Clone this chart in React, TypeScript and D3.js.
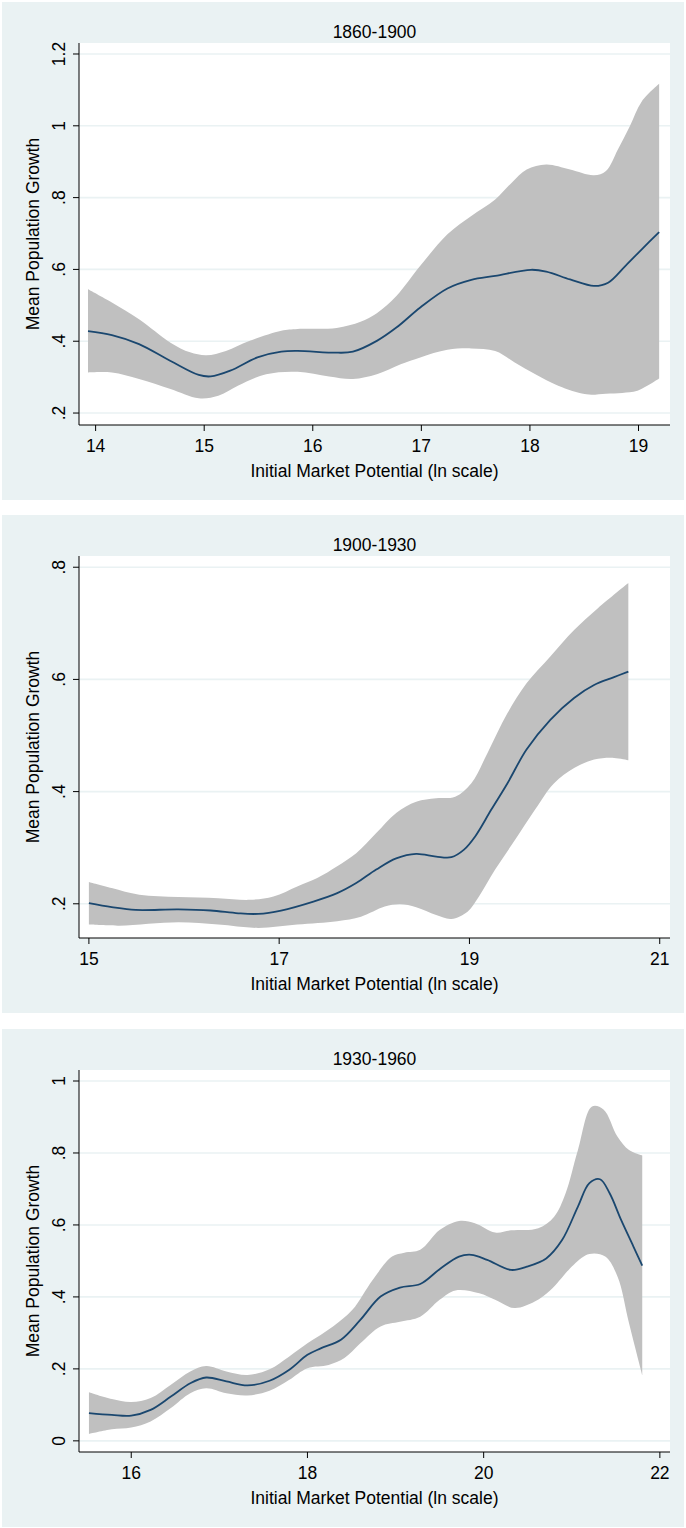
import React from 'react';
import * as d3 from 'd3';

const FONT = '"Liberation Sans", Arial, Helvetica, sans-serif';
const FS = 17.5;
const BG = '#EAF2F3';
const BAND = '#C0C0C0';
const LINE = '#1A476F';

const xAxisTitle = 'Initial Market Potential (ln scale)';
const yAxisTitle = 'Mean Population Growth';

// ---------- Panel 1: 1860-1900 ----------
const p1Title = '1860-1900';
const p1XDomain = [13.847, 19.29];
const p1YDomain = [0.1667, 1.2306];
const p1XTicks = [14, 15, 16, 17, 18, 19];
const p1YTicks = [0.2, 0.4, 0.6, 0.8, 1, 1.2];
const p1YLabels = ['.2', '.4', '.6', '.8', '1', '1.2'];
const p1MeanX = [13.93, 14.15, 14.4, 14.69, 14.95, 15.06, 15.24, 15.49, 15.71, 15.86, 16.22, 16.37, 16.59, 16.77, 16.99, 17.24, 17.46, 17.68, 18.01, 18.15, 18.37, 18.59, 18.72, 18.88, 19.03, 19.19];
const p1MeanY = [0.428, 0.417, 0.392, 0.345, 0.306, 0.302, 0.318, 0.355, 0.371, 0.373, 0.368, 0.371, 0.401, 0.438, 0.494, 0.547, 0.571, 0.582, 0.599, 0.594, 0.572, 0.554, 0.563, 0.61, 0.656, 0.704];
const p1UpX = [13.93, 14.15, 14.4, 14.69, 14.87, 15.02, 15.2, 15.42, 15.71, 15.86, 16.22, 16.44, 16.59, 16.77, 16.99, 17.24, 17.46, 17.68, 17.83, 17.97, 18.15, 18.37, 18.59, 18.7, 18.81, 18.92, 19.03, 19.19];
const p1UpY = [0.545, 0.508, 0.461, 0.396, 0.369, 0.361, 0.373, 0.401, 0.429, 0.434, 0.437, 0.454, 0.478, 0.526, 0.61, 0.698, 0.749, 0.795, 0.841, 0.878, 0.892, 0.878, 0.862, 0.874, 0.934, 0.999, 1.068, 1.117];
const p1LoX = [13.93, 14.15, 14.4, 14.69, 14.95, 15.13, 15.31, 15.57, 15.86, 16.15, 16.37, 16.59, 16.81, 16.99, 17.24, 17.46, 17.68, 17.86, 18.05, 18.26, 18.52, 18.7, 18.85, 18.99, 19.19];
const p1LoY = [0.313, 0.313, 0.295, 0.267, 0.241, 0.248, 0.276, 0.308, 0.315, 0.302, 0.295, 0.308, 0.336, 0.355, 0.376, 0.38, 0.373, 0.341, 0.308, 0.276, 0.252, 0.254, 0.256, 0.262, 0.296];

// ---------- Panel 2: 1900-1930 ----------
const p2Title = '1900-1930';
const p2XDomain = [14.896, 21.108];
const p2YDomain = [0.139, 0.82];
const p2XTicks = [15, 17, 19, 21];
const p2YTicks = [0.2, 0.4, 0.6, 0.8];
const p2YLabels = ['.2', '.4', '.6', '.8'];
const p2MeanX = [15.0, 15.24, 15.49, 15.94, 16.28, 16.57, 16.78, 17.02, 17.36, 17.61, 17.81, 18.02, 18.23, 18.44, 18.65, 18.81, 18.94, 19.06, 19.23, 19.4, 19.6, 19.85, 20.1, 20.31, 20.52, 20.67];
const p2MeanY = [0.201, 0.194, 0.189, 0.19, 0.188, 0.183, 0.182, 0.188, 0.204, 0.219, 0.237, 0.261, 0.281, 0.289, 0.284, 0.283, 0.296, 0.32, 0.368, 0.415, 0.475, 0.528, 0.567, 0.59, 0.604, 0.614];
const p2UpX = [15.0, 15.24, 15.53, 15.94, 16.36, 16.69, 16.94, 17.19, 17.4, 17.61, 17.81, 18.02, 18.23, 18.44, 18.65, 18.85, 19.02, 19.19, 19.4, 19.6, 19.85, 20.1, 20.35, 20.67];
const p2UpY = [0.239, 0.228, 0.216, 0.212, 0.21, 0.207, 0.213, 0.231, 0.246, 0.267, 0.29, 0.326, 0.362, 0.382, 0.388, 0.391, 0.415, 0.469, 0.54, 0.593, 0.641, 0.688, 0.727, 0.772];
const p2LoX = [15.0, 15.32, 15.94, 16.36, 16.78, 17.19, 17.61, 17.86, 18.11, 18.27, 18.44, 18.65, 18.81, 18.98, 19.1, 19.27, 19.48, 19.69, 19.89, 20.1, 20.31, 20.52, 20.67];
const p2LoY = [0.163, 0.161, 0.167, 0.163, 0.157, 0.163, 0.169, 0.177, 0.195, 0.199, 0.194, 0.18, 0.173, 0.186, 0.213, 0.261, 0.314, 0.368, 0.415, 0.442, 0.457, 0.46, 0.456];

// ---------- Panel 3: 1930-1960 ----------
const p3Title = '1930-1960';
const p3XDomain = [15.407, 22.115];
const p3YDomain = [-0.031, 1.0306];
const p3XTicks = [16, 18, 20, 22];
const p3YTicks = [0, 0.2, 0.4, 0.6, 0.8, 1];
const p3YLabels = ['0', '.2', '.4', '.6', '.8', '1'];
const p3MeanX = [15.52, 15.78, 16.0, 16.22, 16.45, 16.67, 16.85, 17.08, 17.32, 17.57, 17.79, 18.0, 18.15, 18.38, 18.6, 18.83, 19.05, 19.28, 19.5, 19.72, 19.86, 20.04, 20.31, 20.49, 20.71, 20.89, 21.07, 21.2, 21.32, 21.43, 21.56, 21.7, 21.8];
const p3MeanY = [0.077, 0.072, 0.07, 0.086, 0.123, 0.16, 0.176, 0.165, 0.154, 0.167, 0.197, 0.239, 0.257, 0.281, 0.336, 0.401, 0.426, 0.436, 0.477, 0.512, 0.517, 0.503, 0.475, 0.484, 0.507, 0.558, 0.651, 0.716, 0.727, 0.688, 0.614, 0.54, 0.487];
const p3UpX = [15.52, 15.78, 16.0, 16.22, 16.45, 16.67, 16.85, 17.08, 17.32, 17.57, 17.79, 18.0, 18.29, 18.51, 18.74, 18.96, 19.1, 19.28, 19.5, 19.72, 19.9, 20.13, 20.31, 20.62, 20.8, 20.93, 21.07, 21.23, 21.36, 21.52, 21.65, 21.8];
const p3UpY = [0.135, 0.116, 0.108, 0.119, 0.156, 0.193, 0.208, 0.193, 0.183, 0.199, 0.234, 0.271, 0.318, 0.364, 0.447, 0.512, 0.523, 0.531, 0.586, 0.611, 0.605, 0.579, 0.585, 0.591, 0.623, 0.688, 0.808, 0.929, 0.921, 0.845, 0.808, 0.793];
const p3LoX = [15.52, 15.78, 16.0, 16.22, 16.45, 16.67, 16.85, 17.08, 17.32, 17.57, 17.79, 18.0, 18.24, 18.42, 18.6, 18.83, 19.05, 19.28, 19.5, 19.68, 19.95, 20.13, 20.35, 20.58, 20.76, 21.02, 21.2, 21.38, 21.52, 21.65, 21.8];
const p3LoY = [0.019, 0.032, 0.037, 0.054, 0.091, 0.132, 0.146, 0.132, 0.126, 0.139, 0.169, 0.202, 0.211, 0.23, 0.271, 0.318, 0.331, 0.345, 0.392, 0.418, 0.41, 0.392, 0.369, 0.387, 0.419, 0.489, 0.519, 0.512, 0.456, 0.327, 0.183];

type PanelDef = {
  title: string;
  xDomain: number[];
  yDomain: number[];
  xTicks: number[];
  yTicks: number[];
  yLabels: string[];
  meanX: number[];
  meanY: number[];
  upX: number[];
  upY: number[];
  loX: number[];
  loY: number[];
};

const panels: PanelDef[] = [
  { title: p1Title, xDomain: p1XDomain, yDomain: p1YDomain, xTicks: p1XTicks, yTicks: p1YTicks, yLabels: p1YLabels, meanX: p1MeanX, meanY: p1MeanY, upX: p1UpX, upY: p1UpY, loX: p1LoX, loY: p1LoY },
  { title: p2Title, xDomain: p2XDomain, yDomain: p2YDomain, xTicks: p2XTicks, yTicks: p2YTicks, yLabels: p2YLabels, meanX: p2MeanX, meanY: p2MeanY, upX: p2UpX, upY: p2UpY, loX: p2LoX, loY: p2LoY },
  { title: p3Title, xDomain: p3XDomain, yDomain: p3YDomain, xTicks: p3XTicks, yTicks: p3YTicks, yLabels: p3YLabels, meanX: p3MeanX, meanY: p3MeanY, upX: p3UpX, upY: p3UpY, loX: p3LoX, loY: p3LoY },
];

const W = 686;
const H = 1528;
const panelTops = [2, 515, 1029];
const panelH = 498;
const plotL = 79;
const plotR = 670;
const plotTopOff = 41;
const axisOff = 423;

function Panel({ p, top }: { p: PanelDef; top: number }) {
  const plotTop = top + plotTopOff;
  const axisY = top + axisOff;
  const x = d3.scaleLinear().domain(p.xDomain).range([plotL, plotR]);
  const y = d3.scaleLinear().domain(p.yDomain).range([axisY, plotTop]);

  const line = d3
    .line<[number, number]>()
    .x((d) => x(d[0]))
    .y((d) => y(d[1]))
    .curve(d3.curveCatmullRom.alpha(0.5));

  const up: [number, number][] = p.upX.map((v, i) => [v, p.upY[i]]);
  const lo: [number, number][] = p.loX.map((v, i) => [v, p.loY[i]]).reverse() as [number, number][];
  const mean: [number, number][] = p.meanX.map((v, i) => [v, p.meanY[i]]);
  const bandPath = (line(up) || '') + (line(lo) || '').replace(/^M/, 'L') + 'Z';

  const cx = (plotL + plotR) / 2;
  const cy = (plotTop + axisY) / 2;

  return (
    <g>
      <rect x={2} y={top} width={682} height={panelH} fill={BG} />
      <rect x={plotL} y={plotTop} width={plotR - plotL} height={axisY - plotTop} fill="#fff" />
      {p.yTicks.map((t) => (
        <line key={'g' + t} x1={plotL} x2={plotR} y1={y(t)} y2={y(t)} stroke={BG} strokeWidth={1.6} />
      ))}
      <path d={bandPath} fill={BAND} stroke="none" />
      <path d={line(mean) || ''} fill="none" stroke={LINE} strokeWidth={1.8} />
      <line x1={plotL} x2={plotL} y1={plotTop} y2={axisY} stroke="#000" strokeWidth={1} />
      <line x1={plotL} x2={plotR} y1={axisY} y2={axisY} stroke="#000" strokeWidth={1} />
      {p.yTicks.map((t, i) => (
        <g key={'y' + t}>
          <line x1={plotL - 6} x2={plotL} y1={y(t)} y2={y(t)} stroke="#000" strokeWidth={1} />
          <text
            transform={`translate(${plotL - 14},${y(t)}) rotate(-90)`}
            textAnchor="middle"
            fontFamily={FONT}
            fontSize={FS}
            fill="#000"
          >
            {p.yLabels[i]}
          </text>
        </g>
      ))}
      {p.xTicks.map((t) => (
        <g key={'x' + t}>
          <line x1={x(t)} x2={x(t)} y1={axisY} y2={axisY + 6} stroke="#000" strokeWidth={1} />
          <text x={x(t)} y={axisY + 27} textAnchor="middle" fontFamily={FONT} fontSize={FS} fill="#000">
            {t}
          </text>
        </g>
      ))}
      <text x={cx} y={top + 36} textAnchor="middle" fontFamily={FONT} fontSize={FS} fill="#000">
        {p.title}
      </text>
      <text x={cx} y={axisY + 52} textAnchor="middle" fontFamily={FONT} fontSize={FS} fill="#000">
        {xAxisTitle}
      </text>
      <text
        transform={`translate(39,${cy}) rotate(-90)`}
        textAnchor="middle"
        fontFamily={FONT}
        fontSize={FS}
        fill="#000"
      >
        {yAxisTitle}
      </text>
    </g>
  );
}

export default function App() {
  return (
    <svg
      width={W}
      height={H}
      viewBox={`0 0 ${W} ${H}`}
      style={{ position: 'absolute', left: 0, top: 0, background: '#fff' }}
    >
      {panels.map((p, i) => (
        <Panel key={p.title} p={p} top={panelTops[i]} />
      ))}
    </svg>
  );
}
